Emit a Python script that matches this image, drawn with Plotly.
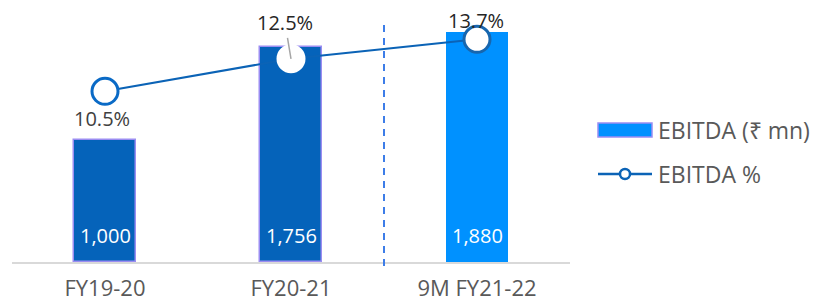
import plotly.graph_objects as go

categories = ["FY19-20", "FY20-21", "9M FY21-22"]
ebitda_mn = [1000, 1756, 1880]
ebitda_pct = [10.5, 12.5, 13.7]
bar_labels = ["1,000", "1,756", "1,880"]
pct_labels = ["10.5%", "12.5%", "13.7%"]

FONT = "Open Sans"
OFF = 8  # page body margin offset
W, H = 819 - OFF, 303 - OFF
L, T = 12 - OFF, 10 - OFF
PW, PH = 558, 252
R = W - L - PW
B = H - T - PH

def px_x(p):
    return (p - 12) / PW

def px_y(p):
    return (262 - p) / PH

fig = go.Figure()
fig.add_trace(go.Bar(
    x=categories, y=ebitda_mn, width=1/3,
    marker=dict(color=["#0563BA", "#0563BA", "#0091FF"],
                line=dict(color="#9B8DF2", width=[1.5, 1.5, 0])),
    showlegend=False, hoverinfo="skip",
))
fig.add_trace(go.Scatter(
    x=categories, y=ebitda_pct, yaxis="y2", mode="lines+markers",
    line=dict(color="#0B63B6", width=2),
    marker=dict(size=26, color="white",
                line=dict(color=["#0A6AC6", "white", "#1766AE"], width=3)),
    showlegend=False, hoverinfo="skip",
))

ann = []
for c, lab in zip(categories, bar_labels):
    ann.append(dict(x=c, y=0, xref="x", yref="y", text=lab, showarrow=False,
                    yanchor="middle", yshift=27,
                    font=dict(family=FONT, size=20, color="white")))
ann.append(dict(x=categories[0], y=ebitda_pct[0], xref="x", yref="y2", text=pct_labels[0],
                showarrow=False, yanchor="middle", yshift=-27, xshift=-3,
                font=dict(family=FONT, size=20, color="#404040")))
ann.append(dict(x=categories[1], y=ebitda_pct[1], xref="x", yref="y2", text=pct_labels[1],
                showarrow=True, arrowhead=0, arrowwidth=1.5, arrowcolor="#A6A6A6",
                ax=-6, ay=-36, standoff=0,
                font=dict(family=FONT, size=20, color="#262626")))
ann.append(dict(x=categories[2], y=ebitda_pct[2], xref="x", yref="y2", text=pct_labels[2],
                showarrow=False, yanchor="middle", yshift=19, xshift=-1,
                font=dict(family=FONT, size=20, color="#262626")))
ann.append(dict(x=px_x(656), y=px_y(130), xref="paper", yref="paper", text="EBITDA (₹ mn)",
                showarrow=False, xanchor="left", yanchor="middle",
                font=dict(family=FONT, size=23, color="#595959")))
ann.append(dict(x=px_x(656), y=px_y(174), xref="paper", yref="paper", text="EBITDA %",
                showarrow=False, xanchor="left", yanchor="middle",
                font=dict(family=FONT, size=23, color="#595959")))

shapes = [
    dict(type="rect", xref="paper", yref="paper", x0=px_x(813), x1=px_x(830),
         y0=px_y(185), y1=px_y(310), fillcolor="#F2F6FD", line=dict(width=0), layer="below"),
    dict(type="line", xref="x", yref="paper", x0=1.5, x1=1.5, y0=px_y(25), y1=px_y(272),
         line=dict(color="#3D7DE8", width=2, dash="7px,6px")),
    dict(type="rect", xref="paper", yref="paper", x0=px_x(598), x1=px_x(652),
         y0=px_y(123), y1=px_y(137), fillcolor="#0091FF", line=dict(color="#9B8DF2", width=1.5)),
    dict(type="line", xref="paper", yref="paper", x0=px_x(598), x1=px_x(652),
         y0=px_y(174), y1=px_y(174), line=dict(color="#0B63B6", width=2.5)),
    dict(type="circle", xref="paper", yref="paper", x0=px_x(620), x1=px_x(630),
         y0=px_y(169), y1=px_y(179), fillcolor="white", line=dict(color="#0B63B6", width=2.5)),
]

fig.update_layout(
    width=W, height=H, margin=dict(l=L, r=R, t=T, b=B, autoexpand=False),
    paper_bgcolor="white", plot_bgcolor="white",
    font=dict(family=FONT, color="#595959"),
    xaxis=dict(range=[-0.5, 2.5], showline=True, linecolor="#D9D9D9", linewidth=2,
               showgrid=False, zeroline=False, ticks="outside", ticklen=6,
               tickcolor="rgba(0,0,0,0)", tickfont=dict(family=FONT, size=22, color="#595959"),
               automargin=False, fixedrange=True),
    yaxis=dict(range=[0, 2059], visible=False, showgrid=False, zeroline=False, automargin=False),
    yaxis2=dict(range=[0, 15.5], overlaying="y", visible=False, showgrid=False,
                zeroline=False, automargin=False),
    annotations=ann, shapes=shapes, showlegend=False, bargap=0,
)

fig.write_html("out.html")
